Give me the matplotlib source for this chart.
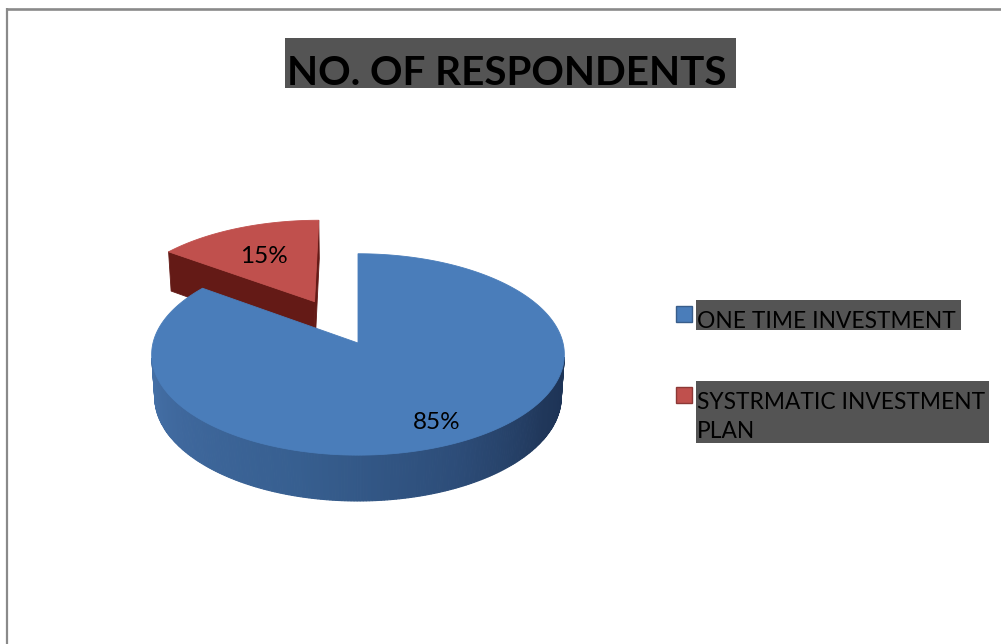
import numpy as np
import matplotlib
matplotlib.use("Agg")
import matplotlib.pyplot as plt
from matplotlib.patches import Polygon, Rectangle
from matplotlib.colors import to_rgb

# ---- chart content -------------------------------------------------------
title = "NO. OF RESPONDENTS"
categories = ["ONE TIME INVESTMENT", "SYSTRMATIC INVESTMENT\nPLAN"]
shares = [85, 15]
explode = [0.0, 0.49]

top_colors = ["#4a7dba", "#c0504d"]
side_colors = ["#33598b", "#641a16"]
legend_edge = ["#385d8a", "#8c3836"]

# blue wall shading from the left (180 deg) round the front to the right (360 deg)
wall_angle_stops = [180, 215, 255, 295, 330, 350, 360]
wall_color_stops = ["#4774ab", "#3f689d", "#375f90", "#2d4d79", "#20375a", "#1d3356", "#24405f"]

W, H = 1001, 644
FONT = "Lato"

fig = plt.figure(figsize=(W / 100, H / 100), dpi=100)
ax = fig.add_axes([0, 0, 1, 1])
ax.set_xlim(0, W)
ax.set_ylim(H, 0)
ax.axis("off")

# ---- perspective projection of a tilted disc ----------------------------
ELEV = np.radians(29)
DIST = 7.7
RX = 205
FOC = RX * DIST
CX, CY = 358, 343
THICK = 0.24
CAM = np.array([0.0, -DIST * np.cos(ELEV), DIST * np.sin(ELEV)])


def project(X, Y, Z):
    X = np.atleast_1d(np.asarray(X, float))
    Y = np.atleast_1d(np.asarray(Y, float))
    Z = np.atleast_1d(np.asarray(Z, float)) * np.ones_like(X)
    depth = DIST + Y * np.cos(ELEV) - Z * np.sin(ELEV)
    u = FOC * X / depth
    v = FOC * (Y * np.sin(ELEV) + Z * np.cos(ELEV)) / depth
    return np.column_stack([CX + u, CY - v])


def facing(point, normal):
    return np.dot(CAM - point, normal) > 0


def wall_color(tdeg):
    t = tdeg % 360
    if t < 180:
        t = 180 if t < 90 else 360
    return [np.interp(t, wall_angle_stops, [to_rgb(c)[k] for c in wall_color_stops]) for k in range(3)]


def draw_slice(a0, a1, off, top_c, side_c, shade_wall):
    mid = np.radians((a0 + a1) / 2)
    ox, oy = off * np.cos(mid), off * np.sin(mid)
    t = np.radians(np.linspace(a0, a1, 400))
    rx, ry = ox + np.cos(t), oy + np.sin(t)

    # radial cut faces
    for ang, sgn in ((a0, -1), (a1, 1)):
        r = np.radians(ang)
        n = np.array([-np.sin(r), np.cos(r), 0.0]) * sgn
        mid_pt = np.array([ox + 0.5 * np.cos(r), oy + 0.5 * np.sin(r), -THICK / 2])
        if facing(mid_pt, n):
            ex, ey = ox + np.cos(r), oy + np.sin(r)
            quad = np.vstack([project(ox, oy, 0), project(ex, ey, 0),
                              project(ex, ey, -THICK), project(ox, oy, -THICK)])
            ax.add_patch(Polygon(quad, closed=True, fc=side_c, ec=side_c, lw=0.6, zorder=2))

    # outer curved wall
    for k in range(len(t) - 1):
        tm = 0.5 * (t[k] + t[k + 1])
        pt = np.array([ox + np.cos(tm), oy + np.sin(tm), -THICK / 2])
        n = np.array([np.cos(tm), np.sin(tm), 0.0])
        if not facing(pt, n):
            continue
        quad = np.vstack([project(rx[k:k + 2], ry[k:k + 2], 0),
                          project(rx[k:k + 2][::-1], ry[k:k + 2][::-1], -THICK)])
        c = wall_color(np.degrees(tm)) if shade_wall else side_c
        ax.add_patch(Polygon(quad, closed=True, fc=c, ec=c, lw=0.8, zorder=2))

    # top face
    top = np.vstack([project(ox, oy, 0), project(rx, ry, 0)])
    ax.add_patch(Polygon(top, closed=True, fc=top_c, ec=top_c, lw=0.6, zorder=3))
    return ox, oy


# slices run clockwise from 12 o'clock
total = float(sum(shares))
bounds = []
start = 90.0
for s in shares:
    sweep = 360.0 * s / total
    bounds.append((start - sweep, start))
    start -= sweep

# farther (exploded, back) slice first
order = sorted(range(len(shares)), key=lambda i: -np.sin(np.radians(sum(bounds[i]) / 2)) * explode[i])
centers = {}
for i in order:
    a0, a1 = bounds[i]
    centers[i] = draw_slice(a0, a1, explode[i], top_colors[i], side_colors[i], i == 0)

# percentage labels on the top faces (offsets in disc units from each slice's apex)
label_pos = [(0.35, -0.73), (-0.287, 0.535)]
for i, s in enumerate(shares):
    ox, oy = centers[i]
    lx, ly = label_pos[i]
    p = project(ox + lx, oy + ly, 0)[0]
    ax.text(p[0], p[1], f"{s}%", fontsize=17.5, family=FONT, color="black",
            ha="center", va="center", zorder=5)

# ---- title with highlight ------------------------------------------------
ax.add_patch(Rectangle((285, 38), 451, 50, fc="#545454", ec="none", zorder=4))
ax.text(287, 85, title, fontsize=29.1, family=FONT, weight="bold", color="black",
        ha="left", va="baseline", zorder=5)

# ---- legend ---------------------------------------------------------------
legend_sq = [(676, 306), (676, 387)]
legend_box = [(696, 300, 265, 30), (696, 381, 293, 62)]
legend_base = [328, 409]
LINE_STEP = 29
for i, cat in enumerate(categories):
    sx, sy = legend_sq[i]
    ax.add_patch(Rectangle((sx, sy), 16, 16, fc=top_colors[i], ec=legend_edge[i], lw=1.0, zorder=4))
    bx, by, bw, bh = legend_box[i]
    ax.add_patch(Rectangle((bx, by), bw, bh, fc="#545454", ec="none", zorder=4))
    for j, line in enumerate(cat.split("\n")):
        ax.text(697, legend_base[i] + j * LINE_STEP, line, fontsize=16.4, family=FONT,
                color="black", ha="left", va="baseline", zorder=5)

# ---- frame lines ----------------------------------------------------------
ax.plot([6, W], [8.5, 8.5], color="#8a8a8a", lw=1.9, solid_capstyle="butt", zorder=6)
ax.plot([6.5, 6.5], [8, H], color="#8a8a8a", lw=1.6, solid_capstyle="butt", zorder=6)

fig.savefig("out.png", dpi=100)
